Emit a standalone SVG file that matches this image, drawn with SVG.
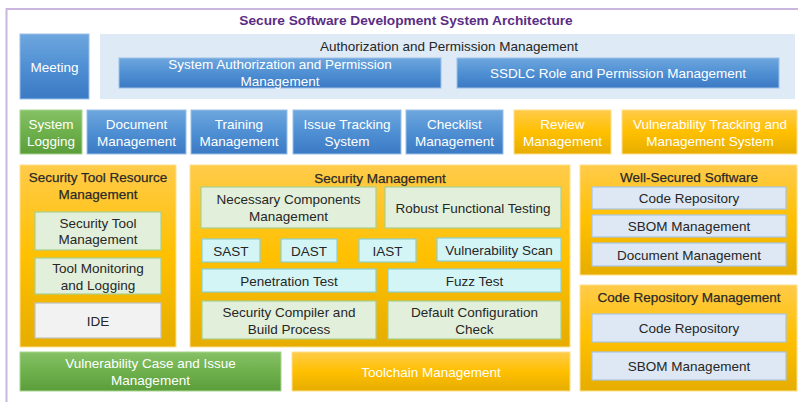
<svg xmlns="http://www.w3.org/2000/svg" width="798" height="402" viewBox="0 0 798 402">
  <defs>
    <linearGradient id="gBlue" x1="0" y1="0" x2="0" y2="1">
      <stop offset="0" stop-color="#6ea7de"/>
      <stop offset="0.5" stop-color="#4f8fd3"/>
      <stop offset="1" stop-color="#3b7ac4"/>
    </linearGradient>
    <linearGradient id="gGold" x1="0" y1="0" x2="0" y2="1">
      <stop offset="0" stop-color="#ffcb4a"/>
      <stop offset="0.5" stop-color="#ffc000"/>
      <stop offset="1" stop-color="#e6ad00"/>
    </linearGradient>
    <linearGradient id="gGreen" x1="0" y1="0" x2="0" y2="1">
      <stop offset="0" stop-color="#86c166"/>
      <stop offset="0.5" stop-color="#6eb04c"/>
      <stop offset="1" stop-color="#5a9d3a"/>
    </linearGradient>
  </defs>
  <style>
    text { font-family: "Liberation Sans", Arial, sans-serif; font-size: 13.5px; text-anchor: middle; }
    .title { font-size: 13.7px; font-weight: bold; fill: #5b2d84; }
    .blue { fill: url(#gBlue); stroke: #9cc0e8; stroke-width: 1; }
    .gold { fill: url(#gGold); stroke: #ffe08a; stroke-width: 1; }
    .green { fill: url(#gGreen); stroke: #a8d68e; stroke-width: 1; }
    .light { fill: #ffffff; }
    .dark { fill: #262626; }
    .head { fill: #1e1e1e; stroke: #3a3a3a; stroke-width: 0.25; }
    .authpanel { fill: #deeaf5; }
    .lgreen { fill: #e2efda; stroke: #a9d18e; stroke-width: 1.2; }
    .cyan { fill: #d4f5f6; stroke: #8ccfcf; stroke-width: 1.2; }
    .lblue { fill: #dde8f4; stroke: #a9c5e4; stroke-width: 1.2; }
    .grey { fill: #f2f2f2; stroke: #c0c0c0; stroke-width: 1.2; }
    .frame { fill: none; stroke: #cbb6df; stroke-width: 2; }
  </style>

  <!-- outer frame -->
  <path class="frame" d="M798 9 H6.5 V402"/>

  <text class="title" x="406" y="24.5">Secure Software Development System Architecture</text>

  <!-- top row -->
  <g id="meeting">
    <rect class="blue" x="20" y="34" width="69" height="65"/>
    <text class="light" x="54.5" y="72">Meeting</text>
  </g>
  <g id="auth">
    <rect class="authpanel" x="100" y="34" width="695" height="65"/>
    <text class="dark" x="449" y="50.5">Authorization and Permission Management</text>
    <g id="sys-auth">
      <rect class="blue" x="119" y="58" width="322" height="30"/>
      <text class="light" x="280" y="69">System Authorization and Permission</text>
      <text class="light" x="280" y="86">Management</text>
    </g>
    <g id="ssdlc-role">
      <rect class="blue" x="457" y="58" width="322" height="30"/>
      <text class="light" x="618" y="78">SSDLC Role and Permission Management</text>
    </g>
  </g>

  <!-- second row -->
  <g id="system-logging">
    <rect class="green" x="20" y="110" width="62" height="44"/>
    <text class="light" x="51" y="129">System</text>
    <text class="light" x="51" y="146">Logging</text>
  </g>
  <g id="document-management">
    <rect class="blue" x="87" y="110" width="99" height="44"/>
    <text class="light" x="136.5" y="129">Document</text>
    <text class="light" x="136.5" y="146">Management</text>
  </g>
  <g id="training-management">
    <rect class="blue" x="191" y="110" width="96" height="44"/>
    <text class="light" x="239" y="129">Training</text>
    <text class="light" x="239" y="146">Management</text>
  </g>
  <g id="issue-tracking">
    <rect class="blue" x="293" y="110" width="108" height="44"/>
    <text class="light" x="347" y="129">Issue Tracking</text>
    <text class="light" x="347" y="146">System</text>
  </g>
  <g id="checklist-management">
    <rect class="blue" x="406" y="110" width="97" height="44"/>
    <text class="light" x="454.5" y="129">Checklist</text>
    <text class="light" x="454.5" y="146">Management</text>
  </g>
  <g id="review-management">
    <rect class="gold" x="514" y="110" width="97" height="44"/>
    <text class="light" x="562.5" y="129">Review</text>
    <text class="light" x="562.5" y="146">Management</text>
  </g>
  <g id="vuln-tracking">
    <rect class="gold" x="622" y="110" width="175" height="44"/>
    <text class="light" x="710" y="129">Vulnerability Tracking and</text>
    <text class="light" x="710" y="146">Management System</text>
  </g>

  <!-- security tool resource management -->
  <g id="tool-resource">
    <rect class="gold" x="20" y="165" width="156" height="182"/>
    <text class="head" x="98" y="182">Security Tool Resource</text>
    <text class="head" x="98" y="198.5">Management</text>
    <g id="security-tool-management">
      <rect class="lgreen" x="35" y="212" width="126" height="38"/>
      <text class="dark" x="98" y="227.5">Security Tool</text>
      <text class="dark" x="98" y="244">Management</text>
    </g>
    <g id="tool-monitoring">
      <rect class="lgreen" x="35" y="258" width="126" height="36"/>
      <text class="dark" x="98" y="273">Tool Monitoring</text>
      <text class="dark" x="98" y="290">and Logging</text>
    </g>
    <g id="ide">
      <rect class="grey" x="35" y="303" width="126" height="35"/>
      <text class="dark" x="98" y="325.5">IDE</text>
    </g>
  </g>

  <!-- security management -->
  <g id="security-management">
    <rect class="gold" x="190" y="165" width="380" height="182"/>
    <text class="head" x="380" y="183">Security Management</text>
    <g id="necessary-components">
      <rect class="lgreen" x="201" y="187" width="175" height="41"/>
      <text class="dark" x="288.5" y="204">Necessary Components</text>
      <text class="dark" x="288.5" y="221">Management</text>
    </g>
    <g id="robust-testing">
      <rect class="lgreen" x="385" y="187" width="176" height="41"/>
      <text class="dark" x="473" y="213">Robust Functional Testing</text>
    </g>
    <g id="sast">
      <rect class="cyan" x="202" y="239" width="58" height="23"/>
      <text class="dark" x="231" y="255.5">SAST</text>
    </g>
    <g id="dast">
      <rect class="cyan" x="281" y="239" width="56" height="23"/>
      <text class="dark" x="309" y="255.5">DAST</text>
    </g>
    <g id="iast">
      <rect class="cyan" x="359" y="239" width="57" height="23"/>
      <text class="dark" x="387.5" y="255.5">IAST</text>
    </g>
    <g id="vuln-scan">
      <rect class="cyan" x="437" y="238" width="124" height="23"/>
      <text class="dark" x="499" y="254.5">Vulnerability Scan</text>
    </g>
    <g id="penetration-test">
      <rect class="cyan" x="202" y="269" width="174" height="23"/>
      <text class="dark" x="289" y="285.5">Penetration Test</text>
    </g>
    <g id="fuzz-test">
      <rect class="cyan" x="388" y="269" width="173" height="23"/>
      <text class="dark" x="474.5" y="285.5">Fuzz Test</text>
    </g>
    <g id="security-compiler">
      <rect class="lgreen" x="202" y="301" width="174" height="38"/>
      <text class="dark" x="289" y="317">Security Compiler and</text>
      <text class="dark" x="289" y="334">Build Process</text>
    </g>
    <g id="default-config">
      <rect class="lgreen" x="388" y="301" width="173" height="38"/>
      <text class="dark" x="474.5" y="317">Default Configuration</text>
      <text class="dark" x="474.5" y="334">Check</text>
    </g>
  </g>

  <!-- well-secured software -->
  <g id="well-secured">
    <rect class="gold" x="580" y="165" width="217" height="110"/>
    <text class="head" x="689" y="182">Well-Secured Software</text>
    <g id="ws-code-repo">
      <rect class="lblue" x="592" y="187" width="194" height="22"/>
      <text class="dark" x="689" y="203">Code Repository</text>
    </g>
    <g id="ws-sbom">
      <rect class="lblue" x="592" y="215" width="194" height="22"/>
      <text class="dark" x="689" y="231">SBOM Management</text>
    </g>
    <g id="ws-document">
      <rect class="lblue" x="592" y="243" width="194" height="23"/>
      <text class="dark" x="689" y="259.5">Document Management</text>
    </g>
  </g>

  <!-- code repository management -->
  <g id="code-repo-management">
    <rect class="gold" x="580" y="285" width="217" height="106"/>
    <text class="head" x="689" y="302">Code Repository Management</text>
    <g id="crm-code-repo">
      <rect class="lblue" x="592" y="314" width="194" height="28"/>
      <text class="dark" x="689" y="333">Code Repository</text>
    </g>
    <g id="crm-sbom">
      <rect class="lblue" x="592" y="352" width="194" height="28"/>
      <text class="dark" x="689" y="371">SBOM Management</text>
    </g>
  </g>

  <!-- bottom row -->
  <g id="vuln-case">
    <rect class="green" x="20" y="352" width="261" height="39"/>
    <text class="light" x="150.5" y="368">Vulnerability Case and Issue</text>
    <text class="light" x="150.5" y="385">Management</text>
  </g>
  <g id="toolchain">
    <rect class="gold" x="292" y="352" width="278" height="39"/>
    <text class="light" x="431" y="377">Toolchain Management</text>
  </g>

  <g id="connectors"/>
</svg>
